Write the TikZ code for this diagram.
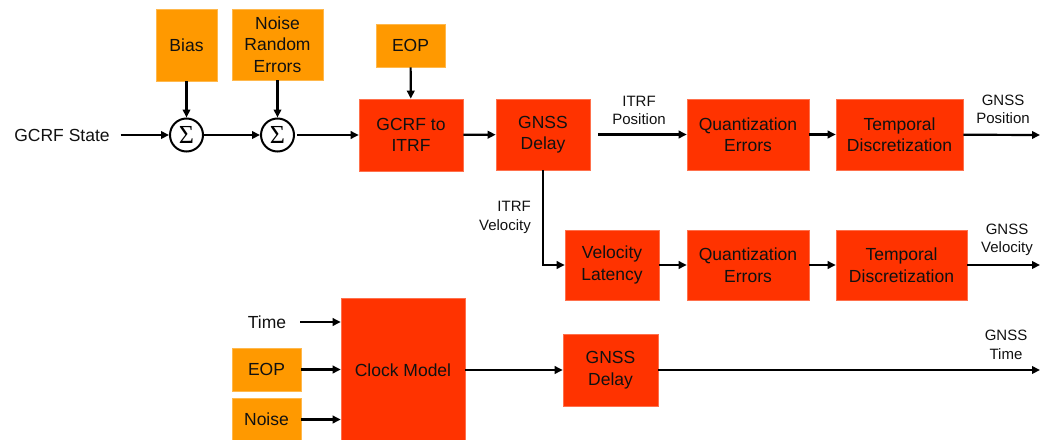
\documentclass[tikz,border=0pt]{standalone}
\usepackage{fontspec}
\setmainfont{Liberation Sans}
\newfontfamily\sumfont{Liberation Serif}
\usetikzlibrary{arrows.meta}
\definecolor{inorange}{HTML}{FF9900}
\definecolor{blockred}{HTML}{FF3300}
\definecolor{inkgray}{HTML}{111111}
\tikzset{
  base/.style={inner sep=0pt, align=center, text=inkgray,
    font=\fontsize{17.5}{21.5}\selectfont},
  inbox/.style={base, fill=inorange, draw=inorange!70!white, line width=0.6pt},
  block/.style={base, fill=blockred, draw=blockred!70!white, line width=0.6pt},
  sumnode/.style={circle, draw=black, line width=2pt, fill=white,
    minimum size=33pt, inner sep=0pt, font=\sumfont\fontsize{26}{26}\selectfont},
  sig/.style={inner sep=0pt, align=center, text=inkgray,
    font=\fontsize{15}{18.5}\selectfont},
  arr/.style={line width=2.2pt, draw=black,
    -{Triangle[length=8pt,width=7.5pt]}},
}
\begin{document}
\begin{tikzpicture}[x=1pt,y=-1pt]
\useasboundingbox (0,0) rectangle (1048,439);

% upper chain: state corrections and frame conversion
\node[base, outer xsep=11pt] (gs) at (62,135) {GCRF State};
\node[inbox, minimum width=61pt, minimum height=72pt] (bias) at (186.5,45) {Bias};
\node[inbox, minimum width=91pt, minimum height=71pt] (nre) at (277.5,44.5) {Noise\\Random\\Errors};
\node[inbox, minimum width=69pt, minimum height=43pt] (eop1) at (410.5,45.5) {EOP};
\node[sumnode] (s1) at (186.5,135) {Σ};
\node[sumnode] (s2) at (277.5,135) {Σ};
\node[block, minimum width=104pt, minimum height=72pt] (gcrf) at (411,135) {GCRF to\\ITRF};
\node[block, minimum width=94pt, minimum height=71pt] (gd1) at (543,134.5) {GNSS\\Delay};
\node[block, minimum width=122pt, minimum height=71pt] (q1) at (748,134.5) {Quantization\\Errors};
\node[block, minimum width=127pt, minimum height=71pt] (t1) at (899.5,134.5) {Temporal\\Discretization};
\coordinate (pout) at (1040,135);

% velocity branch
\node[block, minimum width=94pt, minimum height=70pt] (vl) at (612,265) {Velocity\\Latency};
\node[block, minimum width=122pt, minimum height=70pt] (q2) at (748,265) {Quantization\\Errors};
\node[block, minimum width=131pt, minimum height=70pt] (t2) at (901.5,265) {Temporal\\Discretization};
\coordinate (vout) at (1040,265);

% clock branch
\node[base, outer xsep=14pt] (time) at (267,322) {Time};
\node[inbox, minimum width=69pt, minimum height=43pt] (eop2) at (266.5,369.5) {EOP};
\node[inbox, minimum width=69pt, minimum height=43pt] (noise) at (266.5,419.5) {Noise};
\node[block, minimum width=124pt, minimum height=144pt] (clock) at (403,370) {Clock Model};
\node[block, minimum width=95pt, minimum height=72pt] (gd2) at (610.5,370) {GNSS\\Delay};
\coordinate (tout) at (1040,370);

% signal labels
\node[sig] (lpos) at (639,110.5) {ITRF\\Position};
\node[sig, align=right, anchor=east] (lvel) at (531,217.5) {ITRF\\Velocity};
\node[sig] (lgp) at (1003,109.5) {GNSS\\Position};
\node[sig] (lgv) at (1007,240) {GNSS\\Velocity};
\node[sig] (lgt) at (1006,345) {GNSS\\Time};

% connectors
\draw[arr] (gs) -- (s1);
\draw[arr] (bias) -- (s1);
\draw[arr] (s1) -- (s2);
\draw[arr] (nre) -- (s2);
\draw[arr, shorten <=2pt] (s2) -- (gcrf);
\draw[arr] (eop1) -- (gcrf);
\draw[arr] (gcrf) -- (gd1);
\draw[arr, shorten <=8pt] (gd1) -- (q1);
\draw[arr] (q1) -- (t1);
\draw[arr] (t1) -- (pout);
\draw[arr] (gd1.south) |- (vl.west);
\draw[arr] (vl) -- (q2);
\draw[arr] (q2) -- (t2);
\draw[arr] (t2) -- (vout);
\draw[arr] (time.east) -- (time.east -| clock.west);
\draw[arr] (eop2) -- (eop2 -| clock.west);
\draw[arr] (noise) -- (noise -| clock.west);
\draw[arr] (clock) -- (gd2);
\draw[arr] (gd2) -- (tout);
\end{tikzpicture}
\end{document}
